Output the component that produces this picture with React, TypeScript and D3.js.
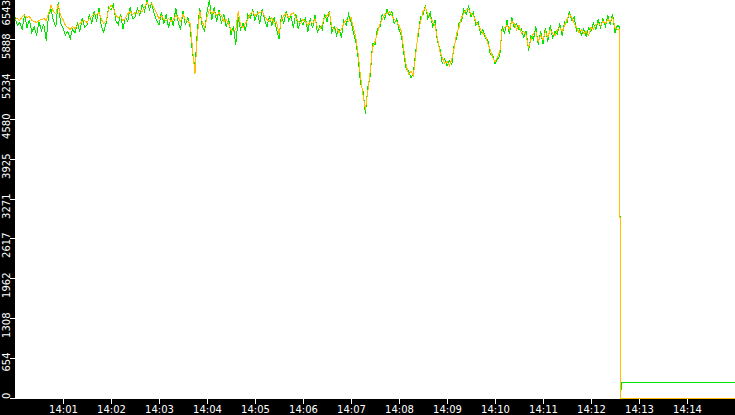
import React from "react";
import * as d3 from "d3";

// ---- data ----
const yTickLabels = ["0", "654", "1308", "1962", "2617", "3271", "3925", "4580", "5234", "5888", "6543"];
const xTickLabels = ["14:01", "14:02", "14:03", "14:04", "14:05", "14:06", "14:07", "14:08", "14:09", "14:10", "14:11", "14:12", "14:13", "14:14"];
const sampleStepSec = 3;

const orangeValues = [
  6215, 6231, 6199, 6264, 6281, 6248, 6264, 6199, 6182, 6166, 6199, 6215, 6231, 6199,
  6313, 6445, 6346, 6313, 6461, 6281,
  6215, 6117, 6084, 6051, 6100, 6067, 6117, 6149, 6182, 6199,
  6166, 6231, 6264, 6313, 6297, 6330, 6215, 6149, 6199, 6379,
  6445, 6395, 6281, 6248, 6264, 6199, 6231, 6313, 6346, 6297,
  6330, 6313, 6363, 6346, 6428, 6494, 6445, 6477, 6395, 6313,
  6231, 6281, 6215, 6199, 6231, 6182, 6215, 6281, 6248, 6182,
  6297, 6215, 6182, 6149, 5723, 5329, 5969, 6346, 6182, 6084,
  6248, 6379, 6313, 6346, 6281, 6330, 6281, 6182, 6215, 6149,
  6051, 6018, 6051, 6346, 6117, 6084, 6149, 6215, 6313, 6346,
  6281, 6313, 6330, 6346, 6264, 6215, 6182, 6248, 6149, 6182,
  5985, 6215, 6281, 6313, 6248, 6297, 6330, 6248, 6182, 6149,
  6215, 6182, 6117, 6182, 6149, 6215, 6084, 6051, 6133, 6248,
  6281, 6330, 6100, 6051, 6084, 6002, 6051, 6149, 6215, 6182,
  6248, 6084, 5920, 5641, 5264, 4985, 4739, 5034, 5362, 5756,
  5854, 5985, 6133, 6215, 6297, 6313, 6346, 6281, 6215, 6182,
  6117, 6018, 5723, 5461, 5313, 5362, 5297, 5641, 6018, 6182,
  6346, 6412, 6297, 6248, 6182, 6117, 5920, 5690, 5592, 5493,
  5526, 5461, 5559, 5756, 5985, 6084, 6248, 6313, 6379, 6379,
  6313, 6281, 6182, 6117, 6051, 5985, 5953, 5821, 5723, 5592,
  5526, 5592, 5690, 6051, 6084, 6117, 6051, 6182, 6149, 6051,
  6117, 5985, 6018, 5953, 5756, 5887, 5985, 6018, 5854, 5953,
  5887, 6018, 5920, 6051, 5985, 5953, 6051, 6084, 6018, 6117,
  6215, 6297, 6248, 6149, 6084, 6002, 6051, 5985, 6018, 5953,
  6084, 6051, 6133, 6149, 6117, 6182, 6149, 6215, 6182, 6248, 6084, 6051,
];
const orangeTailSec = [755.625, 755.625, 756.875, 756.875, 900];
const orangeTailValues = [6051, 2960, 2960, 0, 0];

const greenValues = [
  6250, 6120, 6160, 6050, 6310, 6080, 6210, 6000, 6100, 5950,
  6180, 6030, 6140, 5870, 6290, 6380, 6200, 6090, 6500, 6160,
  6080, 5960, 6020, 5900, 6060, 5990, 6150, 6020, 6230, 6090,
  6120, 6300, 6150, 6350, 6180, 6400, 6090, 6010, 6160, 6420,
  6370, 6460, 6200, 6130, 6310, 6060, 6250, 6180, 6420, 6230,
  6250, 6400, 6290, 6460, 6350, 6530, 6380, 6490, 6300, 6200,
  6120, 6330, 6150, 6300, 6080, 6250, 6110, 6410, 6170, 6050,
  6350, 6120, 6250, 6080, 5650, 5420, 6050, 6400, 6100, 6020,
  6340, 6540, 6200, 6420, 6180, 6370, 6150, 6300, 6090, 6230,
  5960, 6100, 5800, 6250, 6050, 6160, 6020, 6300, 6230, 6380,
  6200, 6330, 6150, 6390, 6210, 6100, 6270, 6120, 6240, 6050,
  5890, 6280, 6150, 6350, 6200, 6270, 6080, 6310, 6060, 6220,
  6120, 6250, 6010, 6230, 6070, 6290, 6000, 6120, 6050, 6310,
  6180, 6360, 6010, 6100, 5960, 6060, 5920, 6200, 6120, 6300,
  6180, 6000, 5850, 5580, 5160, 5050, 4670, 5100, 5280, 5820,
  5800, 6060, 6080, 6300, 6220, 6380, 6280, 6350, 6150, 6230,
  6050, 5950, 5650, 5400, 5380, 5250, 5340, 5700, 5950, 6260,
  6280, 6450, 6230, 6330, 6100, 6200, 5850, 5750, 5500, 5570,
  5450, 5540, 5480, 5800, 5900, 6150, 6180, 6380, 6300, 6430,
  6250, 6330, 6120, 6180, 5980, 6050, 5900, 5880, 5650, 5640,
  5480, 5560, 5620, 6100, 5990, 6200, 5980, 6250, 6080, 6150,
  6040, 6060, 5920, 6030, 5700, 5950, 5880, 6100, 5800, 6020,
  5820, 6080, 5850, 6120, 5920, 6020, 5980, 6150, 5950, 6180,
  6160, 6350, 6200, 6260, 6020, 6080, 5960, 6060, 5940, 6080,
  6020, 6160, 6050, 6210, 6080, 6230, 6100, 6280, 6130, 6310, 6000, 6120,
];
const greenTailSec = [755.625, 755.625, 756.875, 756.875, 758.125, 758.125, 900];
const greenTailValues = [6100, 2990, 2990, 140, 140, 257, 257];

// ---- chart ----
const W = 735;
const H = 415;
const plotLeft = 15;
const plotBottom = 399;
const t0 = new Date(2024, 0, 1, 14, 0, 0).getTime();
const toDate = (sec: number) => new Date(t0 + sec * 1000);

type P = { t: Date; v: number };

export default function App() {
  const x = d3.scaleTime().domain([toDate(0), toDate(900)]).range([plotLeft, W]);
  const y = d3.scaleLinear().domain([0, 6543]).range([plotBottom - 0.5, -0.5]);

  const mk = (vals: number[], tailS: number[], tailV: number[]): P[] =>
    vals
      .map((v, i) => ({ t: toDate(i * sampleStepSec), v }))
      .concat(tailS.map((s, i) => ({ t: toDate(s), v: tailV[i] })));

  const orange = mk(orangeValues, orangeTailSec, orangeTailValues);
  const green = mk(greenValues, greenTailSec, greenTailValues);

  const line = d3
    .line<P>()
    .x((d) => x(d.t))
    .y((d) => y(d.v));

  const fmt = d3.timeFormat("%H:%M");
  const xTicks = x.ticks(d3.timeMinute.every(1)!).filter((d) => xTickLabels.includes(fmt(d)));

  const yTicks = yTickLabels.map((s) => +s);

  return (
    <svg
      width={W}
      height={H}
      style={{ position: "absolute", left: 0, top: 0, display: "block" }}
      fontFamily="'DejaVu Sans', sans-serif"
    >
      <defs>
        <clipPath id="plotClip">
          <rect x={plotLeft} y={0} width={W - plotLeft} height={plotBottom} />
        </clipPath>
      </defs>
      <rect x={0} y={0} width={W} height={H} fill="#fff" />
      <g clipPath="url(#plotClip)" fill="none" strokeWidth={1} shapeRendering="crispEdges">
        <path d={line(green) || ""} stroke="#00e600" />
        <path d={line(orange) || ""} stroke="#ffbf00" />
      </g>
      <rect x={0} y={0} width={plotLeft} height={H} fill="#000" />
      <rect x={0} y={plotBottom} width={W} height={H - plotBottom} fill="#000" />
      <g shapeRendering="crispEdges">
        {yTicks.map((v, i) => {
          const ty = Math.floor(y(v)) + 0.5;
          const yEnd = Math.max(ty - 6, 0);
          return (
            <g key={"y" + i}>
              <line x1={10} x2={plotLeft} y1={ty} y2={ty} stroke="#fff" />
              <text
                transform={`translate(9.5,${yEnd}) rotate(-90)`}
                textAnchor="end"
                fill="#fff"
                fontSize={10}
              >
                {yTickLabels[i]}
              </text>
            </g>
          );
        })}
        {xTicks.map((d, i) => {
          const tx = Math.floor(x(d)) + 0.5;
          return (
            <g key={"x" + i}>
              <line x1={tx} x2={tx} y1={plotBottom} y2={plotBottom + 5} stroke="#fff" />
              <text x={tx} y={413} textAnchor="middle" fill="#fff" fontSize={10}>
                {fmt(d)}
              </text>
            </g>
          );
        })}
      </g>
    </svg>
  );
}
